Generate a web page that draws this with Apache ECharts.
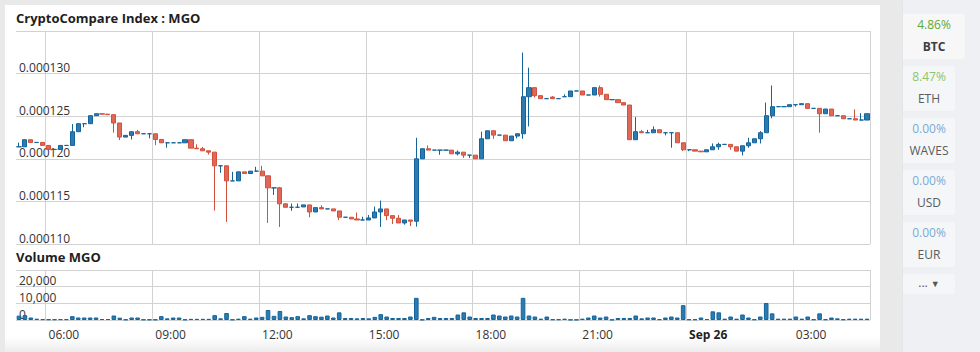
<!DOCTYPE html>
<html>
<head>
<meta charset="utf-8">
<script src="https://cdn.jsdelivr.net/npm/echarts@6/dist/echarts.min.js"></script>
<style>
html, body { margin: 0; padding: 0; background: #e9e9e9; font-family: 'Open Sans', sans-serif; }
#panel { position: absolute; left: 5px; top: 5px; width: 875px; height: 347px;
  background: linear-gradient(to bottom, #fff 0, #fff 332px, #ececec 347px); }
#chart { position: absolute; left: 0; top: 0; width: 880px; height: 352px; }
#side { position: absolute; left: 902px; top: 0; width: 78px; height: 352px; background: #eef0f4;
  border-left: 1px solid #e3e5e9; box-sizing: border-box; }
.btn { position: absolute; left: 0; width: 52px; height: 45px; background: #f5f6f8; border-radius: 0 3px 3px 0;
  text-align: center; font-size: 12px; }
.btn .p { position: absolute; left: 0; right: 0; top: 3px; line-height: 16px; }
.btn .n { position: absolute; left: 0; right: 0; top: 25px; line-height: 16px; color: #585b60; }
.up1 { color: #5fa832; }
.up2 { color: #8cc46a; }
.flat { color: #78acd6; }
</style>
</head>
<body>
<div id="panel"></div>
<div id="chart"></div>
<div id="side">
  <div class="btn" style="top:14px;width:62px;background:#f7f7f7"><div class="p up1">4.86%</div><div class="n" style="font-weight:bold;color:#3a3f45">BTC</div></div>
  <div class="btn" style="top:66px"><div class="p up2">8.47%</div><div class="n">ETH</div></div>
  <div class="btn" style="top:118px"><div class="p flat">0.00%</div><div class="n">WAVES</div></div>
  <div class="btn" style="top:170px"><div class="p flat">0.00%</div><div class="n">USD</div></div>
  <div class="btn" style="top:222px"><div class="p flat">0.00%</div><div class="n">EUR</div></div>
  <div class="btn" style="top:274px;height:20px;line-height:18px;color:#555">... <span style="font-size:9px">&#9660;</span></div>
</div>
<script>
// price in units of 0.000001, one candle every 10 minutes from 05:10
// [open, close, low, high]
var candles = [
  [121.41,121.41,121.41,121.90],[121.41,122.24,121.41,122.24],[122.24,121.92,121.92,122.24],[121.92,121.92,121.92,121.92],
  [121.92,121.57,121.57,121.92],[121.57,121.10,121.10,121.57],[121.10,121.10,121.10,121.10],[121.10,121.57,121.10,121.57],
  [121.57,121.57,121.57,121.57],[121.57,123.18,121.57,124.08],[123.18,124.12,123.18,124.12],[124.12,124.12,123.70,124.12],
  [124.12,125.06,124.12,125.06],[125.06,125.29,125.06,125.29],[125.29,125.24,125.24,125.29],[125.24,125.18,125.18,125.24],
  [125.18,124.20,123.06,125.18],[124.20,122.55,122.20,124.20],[122.55,122.75,122.55,122.75],[122.75,123.18,122.27,123.18],
  [123.18,122.94,122.94,123.40],[122.94,122.94,122.94,122.94],[122.94,122.94,122.40,122.94],[122.94,122.27,121.60,122.94],
  [122.27,121.88,121.88,122.27],[121.88,121.88,121.30,121.88],[121.88,121.88,121.88,121.88],[121.88,121.88,121.88,121.88],
  [121.88,122.24,121.88,122.24],[122.24,121.25,121.25,122.24],[121.25,121.18,121.18,121.70],[121.18,120.94,120.94,121.40],
  [120.94,120.78,120.50,120.94],[120.78,119.18,113.92,120.78],[119.18,119.18,118.35,119.18],[119.18,117.41,112.59,119.18],
  [117.41,117.41,117.41,118.47],[117.41,118.47,117.41,118.47],[118.47,118.27,118.27,118.47],[118.27,118.55,118.27,118.55],
  [118.55,118.55,118.55,119.06],[118.55,118.00,118.00,119.18],[118.00,116.59,112.47,118.00],[116.59,116.59,115.76,116.59],
  [116.59,114.71,112.00,116.71],[114.71,114.31,114.31,114.80],[114.31,114.31,113.90,114.75],[114.31,114.31,114.31,114.75],
  [114.35,114.59,114.35,114.59],[114.59,113.76,113.14,114.59],[113.76,114.27,113.76,114.27],[114.27,114.12,114.12,114.55],
  [114.12,114.12,114.12,114.12],[114.12,113.88,113.88,114.12],[113.88,113.14,112.80,113.88],[113.14,113.14,113.14,113.14],
  [113.14,112.94,112.94,113.14],[112.94,112.82,112.82,113.69],[112.82,112.82,112.82,113.20],[112.82,113.06,112.82,113.40],
  [113.06,113.76,113.06,114.39],[113.76,114.12,112.00,115.10],[114.12,113.33,112.80,114.12],[113.33,113.02,112.35,113.33],
  [113.02,112.47,112.47,113.40],[112.47,112.82,112.27,112.82],[112.82,112.67,112.10,112.82],[112.67,120.00,112.04,122.47],
  [120.00,121.18,120.00,121.18],[121.18,121.02,121.02,121.57],[121.02,121.02,121.02,121.02],[121.02,121.02,120.47,121.02],
  [121.02,121.02,121.02,121.02],[121.02,120.59,120.59,121.02],[120.59,120.78,120.40,120.98],[120.78,120.43,120.10,120.78],
  [120.43,120.43,120.10,120.43],[120.43,120.00,120.00,120.43],[120.00,122.35,120.00,123.18],[122.35,123.29,122.35,123.29],
  [123.29,122.78,122.35,123.29],[122.78,122.78,122.78,122.78],[122.78,122.12,122.12,122.78],[122.12,122.67,122.12,122.67],
  [122.67,122.94,122.40,122.94],[122.94,127.29,122.35,132.47],[127.29,128.35,123.80,130.70],[128.35,127.41,127.20,128.35],
  [127.41,127.06,127.06,127.41],[127.06,127.06,127.06,127.06],[127.25,127.06,127.06,127.35],[127.06,127.06,127.06,127.06],
  [127.29,127.29,127.29,127.57],[127.29,127.96,127.29,127.96],[127.96,127.96,127.96,127.96],[127.96,127.49,127.49,127.96],
  [127.49,127.49,127.49,127.49],[127.49,128.35,127.49,128.35],[128.35,127.57,127.30,128.60],[127.57,126.94,126.94,127.57],
  [126.94,126.94,126.94,126.94],[126.94,126.59,126.59,126.94],[126.59,126.31,126.31,126.59],[126.31,122.24,122.24,126.31],
  [122.24,123.18,122.24,124.90],[123.18,123.06,123.06,123.40],[123.06,123.06,123.06,123.40],[123.06,123.41,123.06,123.80],
  [123.41,123.06,123.06,123.41],[123.06,123.06,122.75,123.06],[123.06,123.06,121.30,123.06],[123.06,121.88,121.88,123.06],
  [121.88,121.06,120.90,121.88],[121.06,121.06,120.90,121.06],[121.06,120.90,120.90,121.06],[120.90,120.82,120.82,120.90],
  [120.82,121.06,120.82,121.06],[121.06,121.41,121.06,121.80],[121.41,121.69,121.06,121.90],[121.69,121.69,121.69,121.69],
  [121.69,121.41,121.06,121.69],[121.41,120.90,120.90,121.41],[120.90,121.53,120.40,121.53],[121.53,121.88,121.30,122.47],
  [121.88,122.35,121.88,122.35],[122.35,123.06,121.80,123.25],[123.06,125.06,123.06,126.60],[125.06,126.12,124.75,128.60],
  [126.12,126.12,126.12,126.12],[126.12,126.12,126.12,126.12],[126.12,126.35,126.12,126.35],[126.35,126.35,126.12,126.35],
  [126.35,126.47,126.35,126.47],[126.47,125.92,125.92,126.47],[125.92,125.92,125.92,125.92],[125.92,125.29,123.06,125.92],
  [125.29,125.84,125.29,125.84],[125.84,125.06,125.06,125.84],[125.06,125.06,125.06,125.06],[125.06,124.70,124.70,125.06],
  [124.70,124.70,124.70,124.70],[124.70,124.55,124.55,125.80],[124.55,124.55,124.55,125.35],[124.55,125.29,124.55,125.29]
];

var volumes = [
  2600,2900,1500,800,500,400,400,500,500,2300,1500,1500,1500,1500,600,600,
  2700,1400,300,1500,1500,300,300,300,2300,1000,1500,1500,300,700,700,700,
  700,2900,1000,4200,300,800,2300,800,1500,1900,6000,2500,5400,2100,1700,2300,
  1000,2900,2300,2000,2700,1500,4600,1200,1200,1000,1200,1000,1900,3500,2100,1200,
  1200,1200,2100,13300,200,1200,1900,1200,1200,1200,3300,4600,2100,1200,1200,1200,
  3300,2700,2100,2700,2100,13300,2700,2100,800,2100,400,400,800,200,200,800,
  1500,2700,1500,2100,200,1200,1200,1200,2700,1000,1500,1500,500,1500,2100,1500,
  8900,400,400,1500,600,5200,4600,800,2100,800,3300,1500,400,2100,10200,4000,
  800,800,800,2100,800,2100,400,4000,400,1500,1000,400,800,800,800,800
];

// x tick marks: candle index where each label sits
var tickIdx = [5, 23, 41, 59, 77, 95, 113, 131];
var tickText = ['06:00', '09:00', '12:00', '15:00', '18:00', '21:00', 'Sep 26', '03:00'];

var times = [];
for (var i = 0; i < candles.length; i++) {
  var m = (310 + i * 10) % 1440;
  times.push(('0' + Math.floor(m / 60)).slice(-2) + ':' + ('0' + (m % 60)).slice(-2));
}

function isTick(index) {
  return tickIdx.indexOf(index) >= 0;
}

var upFill = '#2c7bb0', upLine = '#14649b';
var downFill = '#e06858', downLine = '#d2503c';
var gridColor = '#d2d2d2';
var font = 'Open Sans';

var myChart = echarts.init(document.getElementById('chart'), null, { renderer: 'svg' });
var option = {
  animation: false,
  textStyle: { fontFamily: font },
  title: [{
    text: 'CryptoCompare Index : MGO',
    left: 16, top: 11, padding: 0,
    textStyle: { fontSize: 13, fontWeight: 'bold', color: '#1e1e1e', fontFamily: font }
  }, {
    text: 'Volume MGO',
    left: 16, top: 250, padding: 0,
    textStyle: { fontSize: 13, fontWeight: 'bold', color: '#1e1e1e', fontFamily: font }
  }],
  grid: [
    { left: 16, right: 10, top: 31, height: 213 },
    { left: 16, right: 10, top: 270, height: 50 }
  ],
  xAxis: [{
    type: 'category', gridIndex: 0, data: times, boundaryGap: true,
    axisLine: { show: false }, axisTick: { show: false }, axisLabel: { show: false },
    splitLine: { show: true, interval: isTick, lineStyle: { color: gridColor } }
  }, {
    type: 'category', gridIndex: 1, data: times, boundaryGap: true,
    axisLine: { show: false }, axisTick: { show: false },
    axisLabel: {
      show: true, interval: isTick, align: 'left', margin: 8,
      formatter: function(value, index) {
        var t = tickText[tickIdx.indexOf(index)] || '';
        return t === 'Sep 26' ? '{b|' + t + '}' : '{n|' + t + '}';
      },
      rich: {
        n: { fontSize: 12, color: '#333', fontFamily: font },
        b: { fontSize: 12, color: '#222', fontWeight: 'bold', fontFamily: font }
      }
    },
    splitLine: { show: true, interval: isTick, lineStyle: { color: gridColor } }
  }],
  yAxis: [{
    type: 'value', gridIndex: 0, min: 110, max: 135, interval: 5,
    axisLine: { show: false }, axisTick: { show: false },
    axisLabel: {
      inside: true, margin: 3, verticalAlign: 'bottom', showMaxLabel: false,
      color: '#333', fontSize: 12, fontFamily: font,
      formatter: function(v) { return (v / 1e6).toFixed(6); }
    },
    splitLine: { lineStyle: { color: gridColor } }
  }, {
    type: 'value', gridIndex: 1, min: 0, max: 30000, interval: 10000,
    axisLine: { show: false }, axisTick: { show: false },
    axisLabel: {
      inside: true, margin: 3, verticalAlign: 'bottom', showMaxLabel: false,
      color: '#333', fontSize: 12, fontFamily: font,
      formatter: function(v) { return v.toLocaleString('en-US'); }
    },
    splitLine: { lineStyle: { color: gridColor } }
  }],
  series: [{
    type: 'candlestick', xAxisIndex: 0, yAxisIndex: 0,
    data: candles, barWidth: 4.6,
    itemStyle: { color: upFill, color0: downFill, borderColor: upLine, borderColor0: downLine, borderWidth: 1 }
  }, {
    type: 'bar', xAxisIndex: 1, yAxisIndex: 1,
    data: volumes, barWidth: 4.6,
    itemStyle: { color: upFill, borderColor: upLine, borderWidth: 1 }
  }]
};
myChart.setOption(option);
</script>
</body>
</html>
